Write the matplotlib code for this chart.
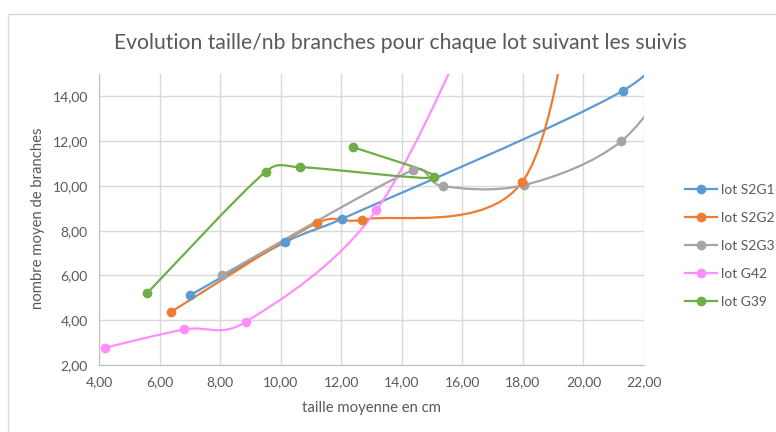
import numpy as np
import matplotlib

matplotlib.use("Agg")
import matplotlib.pyplot as plt  # noqa: E402
from matplotlib.path import Path  # noqa: E402
from matplotlib.patches import PathPatch, Rectangle  # noqa: E402
from matplotlib.lines import Line2D  # noqa: E402
from matplotlib.ticker import FuncFormatter, MultipleLocator  # noqa: E402

# values (last point of some lots lies off the chart,
# one S2G3 point hides under an S2G2 marker)
s2g1_x = [7.00, 10.14, 12.01, 21.30, 23.5]
s2g1_y = [5.11, 7.48, 8.52, 14.25, 17.5]
s2g2_x = [6.39, 11.19, 12.69, 17.98, 20.0]
s2g2_y = [4.38, 8.34, 8.49, 10.18, 22.0]
s2g3_x = [8.05, 14.38, 15.35, 18.05, 21.25, 23.5]
s2g3_y = [6.00, 10.71, 9.99, 10.04, 12.00, 16.0]
g42_x = [4.19, 6.82, 8.85, 13.16, 17.0]
g42_y = [2.77, 3.59, 3.93, 8.92, 19.3]
g39_x = [5.59, 9.50, 10.64, 15.07, 12.40]
g39_y = [5.21, 10.63, 10.84, 10.38, 11.73]

labels = ["lot S2G1", "lot S2G2", "lot S2G3", "lot G42", "lot G39"]
colors = ["#5B9BD5", "#ED7D31", "#A5A5A5", "#FF8FFF", "#70AD47"]

TXT = "#595959"
GRID = "#D9D9D9"
plt.rcParams["font.family"] = ["Lato", "DejaVu Sans"]


def _dist(a, b):
    return float(np.hypot(*(b - a)))


def excel_smooth(ax, xs, ys):
    """Bezier path close to Excel's 'smoothed line' option."""
    pts = ax.transData.transform(np.column_stack([xs, ys]))
    n = len(pts)
    verts, codes = [pts[0]], [Path.MOVETO]
    for i in range(n - 1):
        p0 = pts[i - 1] if i > 0 else pts[i]
        p1, p2 = pts[i], pts[i + 1]
        p3 = pts[i + 2] if i + 2 < n else pts[i + 1]
        d12 = _dist(p1, p2)
        d02, d13 = _dist(p0, p2), _dist(p1, p3)
        f0 = min(1 / 6, d12 / (2 * d02)) if d02 > 0 else 0
        f1 = min(1 / 6, d12 / (2 * d13)) if d13 > 0 else 0
        verts += [p1 + (p2 - p0) * f0, p2 - (p3 - p1) * f1, p2]
        codes += [Path.CURVE4] * 3
    verts = ax.transData.inverted().transform(np.array(verts))
    return Path(verts, codes)


fig = plt.figure(figsize=(7.76, 4.32), dpi=100)
fig.patches.append(Rectangle((8 / 776, -0.1), 1.1, 1 - 14 / 432 + 0.1,
                             transform=fig.transFigure, fill=False,
                             edgecolor=GRID, lw=1))
ax = fig.add_axes([99 / 776, 1 - 365 / 432, 545 / 776, 291 / 432])
ax.set_xlim(4, 22)
ax.set_ylim(2, 15)
ax.xaxis.set_major_locator(MultipleLocator(2))
ax.yaxis.set_major_locator(MultipleLocator(2))
fmt = FuncFormatter(lambda v, _: f"{v:.2f}".replace(".", ","))
ax.xaxis.set_major_formatter(fmt)
ax.yaxis.set_major_formatter(fmt)
ax.tick_params(length=0, labelsize=10, colors=TXT, pad=8)
ax.grid(color=GRID, lw=1)
ax.set_axisbelow(True)
for side in ("top", "right"):
    ax.spines[side].set_visible(False)
for side in ("left", "bottom"):
    ax.spines[side].set_color("#BFBFBF")

series = [(s2g1_x, s2g1_y), (s2g2_x, s2g2_y), (s2g3_x, s2g3_y),
          (g42_x, g42_y), (g39_x, g39_y)]
handles = []
for i, ((xs, ys), lab, col) in enumerate(zip(series, labels, colors)):
    ax.add_patch(PathPatch(excel_smooth(ax, xs, ys), facecolor="none",
                           edgecolor=col, lw=1.6, zorder=2))
    # earlier lots' markers sit on top, as in the reference
    ax.plot(xs, ys, "o", color=col, ms=6, zorder=4 - 0.1 * i)
    handles.append(Line2D([], [], color=col, lw=1.6, marker="o", ms=6))

fig.legend(handles, labels, loc="center left",
           bbox_to_anchor=(685 / 776, 1 - 246 / 432), frameon=False,
           fontsize=10, labelcolor=TXT, handlelength=2.3, borderpad=0,
           borderaxespad=0, handletextpad=0.3, labelspacing=1.15)

fig.text(400 / 776, 1 - 43 / 432, "Evolution taille/nb branches pour chaque lot suivant les suivis",
         ha="center", va="center", fontsize=15.2, color=TXT)
fig.text(372 / 776, 1 - 408 / 432, "taille moyenne en cm", ha="center",
         va="center", fontsize=10.7, color=TXT)
fig.text(38 / 776, 1 - 218 / 432, "nombre moyen de branches", ha="center",
         va="center", rotation=90, fontsize=10.7, color=TXT)

fig.savefig("out.png", dpi=100)
